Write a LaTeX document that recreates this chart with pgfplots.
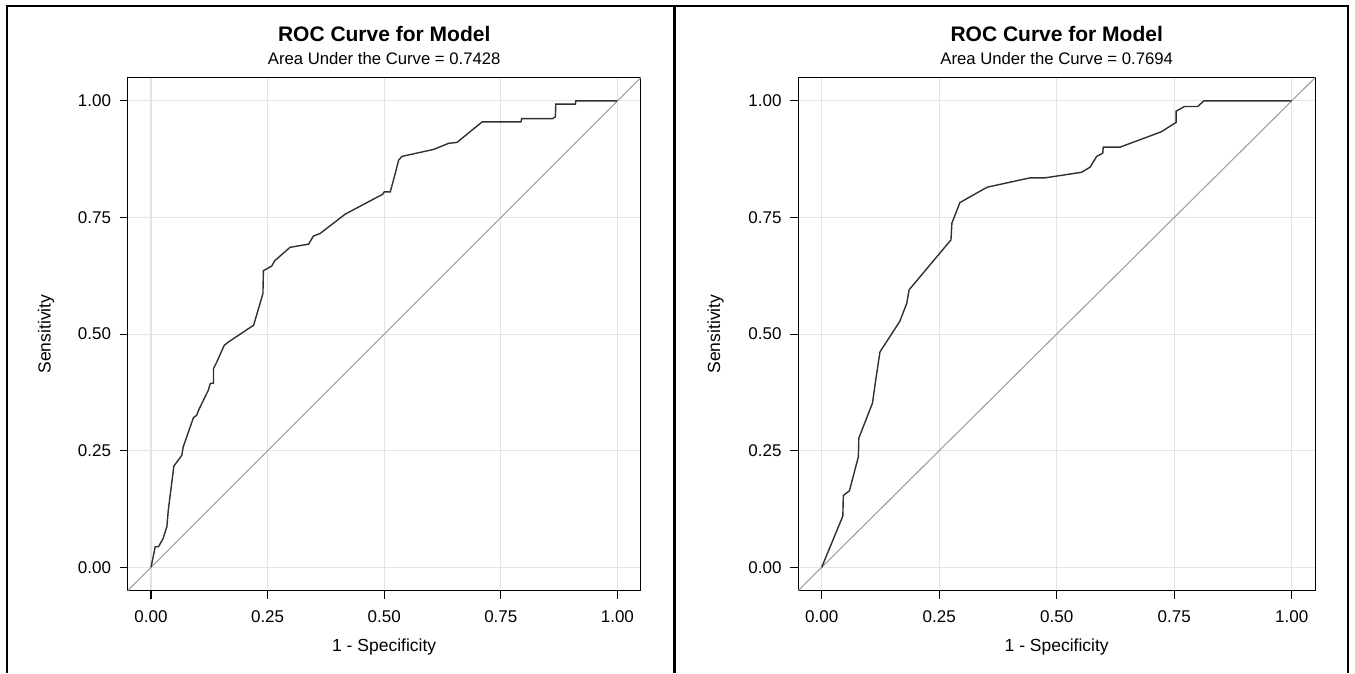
\documentclass[border=0pt]{standalone}
\usepackage{fontspec}
\setmainfont{Liberation Sans}
\usepackage{pgfplots}
\pgfplotsset{compat=1.18}
\definecolor{gridc}{HTML}{E3E3E3}
\definecolor{diagc}{HTML}{A0A0A0}
\definecolor{curvec}{HTML}{303030}
\pgfplotsset{rocstyle/.style={
  scale only axis, height=513pt,
  anchor=south west,
  xmin=-0.05,xmax=1.05,ymin=-0.05,ymax=1.05,
  xtick={0,0.25,0.5,0.75,1}, ytick={0,0.25,0.5,0.75,1},
  xticklabels={0.00,0.25,0.50,0.75,1.00},
  yticklabels={0.00,0.25,0.50,0.75,1.00},
  grid=major, major grid style={gridc, line width=1.1pt},
  tick align=outside, major tick length=8pt,
  tick style={black, line width=1.1pt},
  xtick pos=bottom, ytick pos=left,
  axis line style={black, line width=1.3pt},
  ticklabel style={font=\fontsize{17}{19}\selectfont, inner sep=0pt},
  xticklabel style={anchor=base, yshift=-24pt},
  yticklabel style={anchor=east, xshift=-8.5pt},
  clip=false,
}}
\begin{document}
\begin{tikzpicture}
\path[use as bounding box] (0,0) rectangle (1355pt,673pt);
\begin{axis}[rocstyle, at={(127.7pt,82.4pt)}, width=513pt]
\addplot[diagc, line width=1.1pt] coordinates {(-0.05,-0.05) (1.05,1.05)};
\addplot[curvec, line width=1.4pt] coordinates {
(0,0) (0.009,0.044) (0.016,0.044) (0.026,0.062) (0.034,0.087) (0.037,0.122)
(0.049,0.217) (0.066,0.240) (0.069,0.258) (0.091,0.321) (0.098,0.326)
(0.102,0.337) (0.123,0.380) (0.127,0.394) (0.134,0.395) (0.134,0.426)
(0.141,0.440) (0.157,0.476) (0.166,0.483) (0.220,0.519) (0.240,0.587)
(0.241,0.636) (0.259,0.646) (0.265,0.657) (0.298,0.686) (0.338,0.693)
(0.348,0.710) (0.363,0.716) (0.416,0.757) (0.497,0.800) (0.500,0.805)
(0.513,0.805) (0.522,0.838) (0.531,0.873) (0.538,0.881) (0.606,0.896)
(0.638,0.909) (0.656,0.911) (0.710,0.955) (0.793,0.955) (0.795,0.962)
(0.861,0.962) (0.867,0.966) (0.868,0.993) (0.910,0.993) (0.911,1.0) (1,1)};
\node[anchor=base, font=\bfseries\fontsize{21}{24}\selectfont] at ([yshift=35.7pt]rel axis cs:0.5,1) {ROC Curve for Model};
\node[anchor=base, font=\fontsize{16.7}{19}\selectfont] at ([yshift=12.7pt]rel axis cs:0.5,1) {Area Under the Curve = 0.7428};
\node[anchor=base, font=\fontsize{17.5}{20}\selectfont] at ([yshift=-61pt]rel axis cs:0.5,0) {1 - Specificity};
\node[anchor=base, rotate=90, font=\fontsize{17.5}{20}\selectfont] at ([xshift=-77pt]rel axis cs:0,0.5) {Sensitivity};
\end{axis}
\begin{axis}[rocstyle, at={(798.2pt,82.4pt)}, width=517pt]
\addplot[diagc, line width=1.1pt] coordinates {(-0.05,-0.05) (1.05,1.05)};
\addplot[curvec, line width=1.4pt] coordinates {
(0,0) (0.045,0.110) (0.046,0.154) (0.059,0.164) (0.078,0.237) (0.079,0.277)
(0.108,0.352) (0.115,0.402) (0.124,0.462) (0.166,0.527) (0.181,0.566)
(0.186,0.595) (0.275,0.702) (0.277,0.738) (0.294,0.782) (0.352,0.815)
(0.443,0.835) (0.475,0.835) (0.553,0.847) (0.571,0.858) (0.585,0.881)
(0.598,0.888) (0.599,0.901) (0.635,0.901) (0.723,0.934) (0.754,0.954)
(0.754,0.978) (0.772,0.988) (0.800,0.988) (0.813,1.0) (1,1)};
\node[anchor=base, font=\bfseries\fontsize{21}{24}\selectfont] at ([yshift=35.7pt]rel axis cs:0.5,1) {ROC Curve for Model};
\node[anchor=base, font=\fontsize{16.7}{19}\selectfont] at ([yshift=12.7pt]rel axis cs:0.5,1) {Area Under the Curve = 0.7694};
\node[anchor=base, font=\fontsize{17.5}{20}\selectfont] at ([yshift=-61pt]rel axis cs:0.5,0) {1 - Specificity};
\node[anchor=base, rotate=90, font=\fontsize{17.5}{20}\selectfont] at ([xshift=-78pt]rel axis cs:0,0.5) {Sensitivity};
\end{axis}
\draw[black, line width=2.2pt] (7pt,0pt) -- (7pt,667pt) -- (1348pt,667pt) -- (1348pt,0pt);
\draw[black, line width=3pt] (674pt,0pt) -- (674pt,667pt);
\end{tikzpicture}
\end{document}
